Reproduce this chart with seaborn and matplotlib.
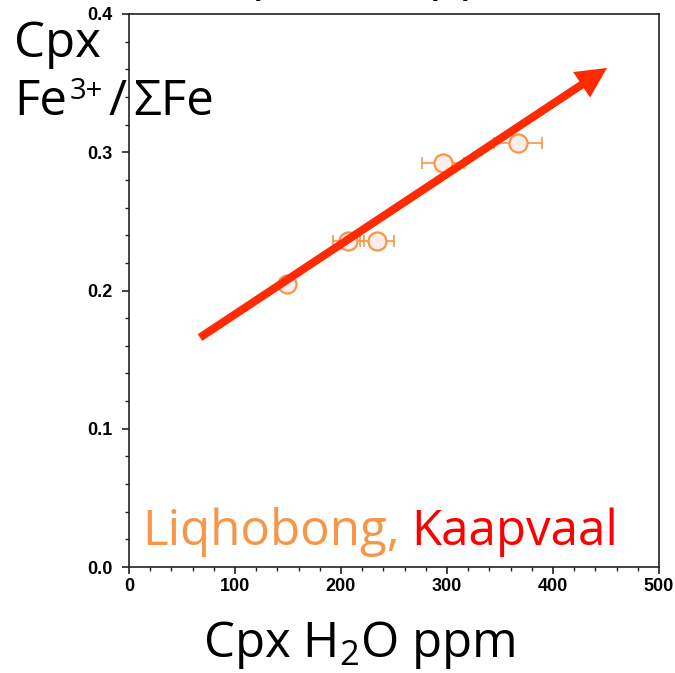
import matplotlib
matplotlib.use('Agg')
import matplotlib.pyplot as plt
from matplotlib.ticker import MultipleLocator
import seaborn as sns
import pandas as pd

# valores (Liqhobong)
h2o_ppm = [149, 207, 234, 296, 367]
fe3_ratio = [0.205, 0.236, 0.236, 0.292, 0.307]
h2o_err = [7, 15, 16, 20, 23]
# flecha de tendencia
trend_x = [67, 451]
trend_y = [0.166, 0.361]
x_ticks = [0, 100, 200, 300, 400, 500]
x_tick_labels = ['0', '100', '200', '300', '400', '500']
y_ticks = [0.0, 0.1, 0.2, 0.3, 0.4]
y_tick_labels = ['0.0', '0.1', '0.2', '0.3', '0.4']

naranja = '#F79646'
rojo_flecha = '#FF2A00'
rojo_texto = '#FF0000'

sns.set_theme(style='ticks')
plt.rcParams['font.family'] = ['Open Sans', 'DejaVu Sans']
plt.rcParams['text.color'] = 'black'
plt.rcParams['mathtext.fontset'] = 'custom'
plt.rcParams['mathtext.rm'] = 'Open Sans'
plt.rcParams['mathtext.it'] = 'Open Sans:italic'
plt.rcParams['mathtext.bf'] = 'Open Sans:bold'

W, H = 675, 673
fig = plt.figure(figsize=(W / 100, H / 100), dpi=100)
ax = fig.add_axes([129 / W, 1 - 567 / H, (659 - 129) / W, (567 - 14) / H])

df = pd.DataFrame({'H2O': h2o_ppm, 'Fe3': fe3_ratio})

ax.errorbar(h2o_ppm, fe3_ratio, xerr=h2o_err, fmt='none', ecolor=naranja,
            elinewidth=1.2, capsize=4, capthick=1.2, zorder=2)
sns.scatterplot(data=df, x='H2O', y='Fe3', ax=ax, s=170, color='#FDEDED',
                edgecolor=naranja, linewidth=1.6, zorder=3, legend=False)

ax.annotate('', xy=(trend_x[1], trend_y[1]), xytext=(trend_x[0], trend_y[0]),
            arrowprops=dict(arrowstyle='simple,head_length=1.1,head_width=1.1,tail_width=0.29',
                            mutation_scale=20, fc=rojo_flecha, ec='none', lw=0,
                            shrinkA=0, shrinkB=0), zorder=4)

ax.set_xlim(0, 500)
ax.set_ylim(0, 0.4)
ax.set_xticks(x_ticks, labels=x_tick_labels, fontfamily='Liberation Sans', fontweight='bold')
ax.set_yticks(y_ticks, labels=y_tick_labels, fontfamily='Liberation Sans', fontweight='bold')
ax.xaxis.set_minor_locator(MultipleLocator(20))
ax.yaxis.set_minor_locator(MultipleLocator(0.02))
ax.tick_params(which='major', direction='out', length=5, width=1.2, labelsize=13,
               color='#222222', labelcolor='black')
ax.tick_params(which='minor', direction='out', length=3, width=1.0, color='#222222')
ax.tick_params(axis='x', pad=3)
ax.tick_params(axis='y', pad=7)
ax.set_xlabel('')
ax.set_ylabel('')
for s in ax.spines.values():
    s.set_visible(True)
    s.set_linewidth(1.2)
    s.set_color('#222222')

renderer = fig.canvas.get_renderer()


def texto_px(x, y, s, **kw):
    # coloca texto en pixeles (origen arriba-izquierda) y devuelve el borde derecho
    t = fig.text(x / W, 1 - y / H, s, va='baseline', **kw)
    return t.get_window_extent(renderer).x1


grande = 35.5

# etiqueta del eje y
texto_px(14, 57, 'Cpx', fontsize=grande)
x1 = texto_px(14, 115, 'Fe', fontsize=grande)
x1 = texto_px(x1 + 3, 99, '3+', fontsize=21)
x1 = texto_px(x1 + 5, 115, '/', fontsize=grande)
texto_px(x1 + 7, 115, 'ΣFe', fontsize=grande)

# etiqueta del eje x
fig.text(359.5 / W, 1 - 657 / H, r'Cpx H$_2$O ppm', fontsize=grande, ha='center', va='baseline')
# titulo cortado arriba
fig.text(376 / W, 1 + 11 / H, r'Cpx H$_2$O ppm', fontsize=grande, ha='center', va='baseline')

x1 = texto_px(142, 545, 'Liqhobong,', fontsize=grande, color=naranja)
texto_px(x1 + 12, 545, 'Kaapvaal', fontsize=grande, color=rojo_texto)

fig.savefig('out.png', dpi=100)
